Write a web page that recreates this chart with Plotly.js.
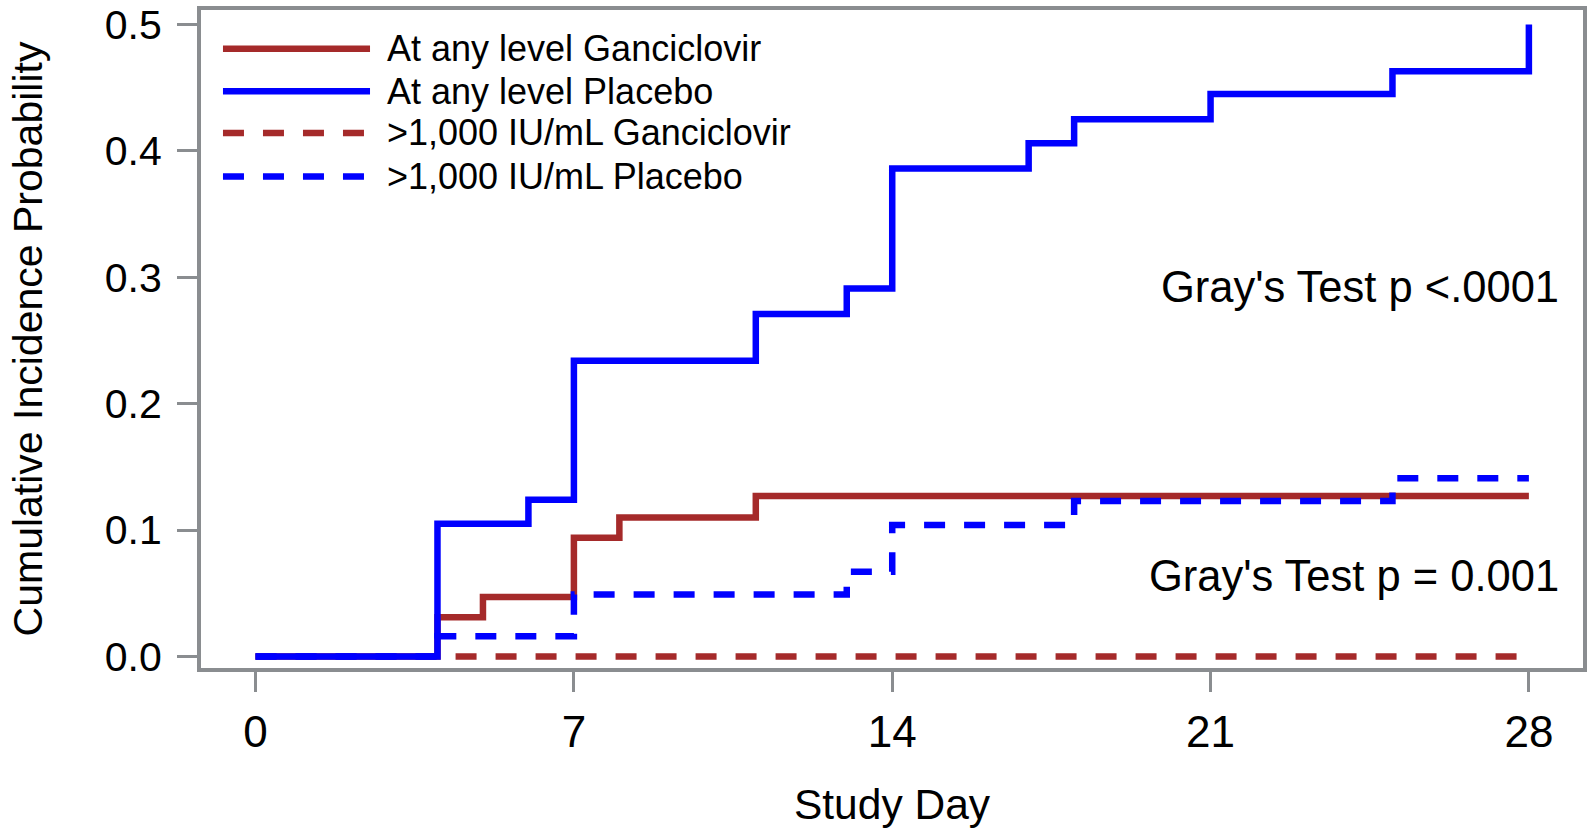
<!DOCTYPE html>
<html>
<head>
<meta charset="utf-8">
<script src="https://cdn.plot.ly/plotly-3.0.1.min.js"></script>
<style>html,body{margin:0;padding:0;background:#fff;}#chart{width:1591px;height:828px;}</style>
</head>
<body>
<div id="chart"></div>
<script>
// Study day tick labels
const dayTicks = [0, 7, 14, 21, 28];
const probTicks = [0, 0.1, 0.2, 0.3, 0.4, 0.5];

// At any level – Ganciclovir
const anyGanDays = [0, 4, 5, 7, 8, 11, 28];
const anyGanProb = [0, 0.031, 0.047, 0.094, 0.110, 0.127, 0.127];

// At any level – Placebo
const anyPlaDays = [0, 4, 6, 7, 11, 13, 14, 17, 18, 21, 25, 28];
const anyPlaProb = [0, 0.105, 0.124, 0.234, 0.271, 0.291, 0.386, 0.406, 0.425, 0.445, 0.463, 0.500];

// >1,000 IU/mL – Ganciclovir
const hiGanDays = [0, 28];
const hiGanProb = [0, 0];

// >1,000 IU/mL – Placebo
const hiPlaDays = [0, 4, 7, 13, 14, 18, 25, 28];
const hiPlaProb = [0, 0.016, 0.049, 0.067, 0.104, 0.123, 0.141, 0.141];

const seriesNames = ["At any level Ganciclovir", "At any level Placebo", ">1,000 IU/mL Ganciclovir", ">1,000 IU/mL Placebo"];
const annotationTexts = ["Gray's Test p <.0001", "Gray's Test p = 0.001"];

const RED = '#a52a2a';
const BLUE = '#0000ff';
const GRAY = '#8a8d90';
const FONT = 'Arial, "Liberation Sans", sans-serif';
const DASH = '21px,19px';
const LW = 6.5;

function stepTrace(x, y, name, color, dash) {
  return {
    x: x, y: y, name: name, type: 'scatter', mode: 'lines',
    line: {shape: 'hv', color: color, width: LW, dash: dash},
    showlegend: false, hoverinfo: 'x+y+name'
  };
}

const traces = [
  stepTrace(hiGanDays, hiGanProb, seriesNames[2], RED, DASH),
  stepTrace(anyGanDays, anyGanProb, seriesNames[0], RED, 'solid'),
  stepTrace(anyPlaDays, anyPlaProb, seriesNames[1], BLUE, 'solid'),
  stepTrace(hiPlaDays, hiPlaProb, seriesNames[3], BLUE, DASH)
];

// manual legend (long line samples like the original)
const legendColors = [RED, BLUE, RED, BLUE];
const legendDash = ['solid', 'solid', 'dash', 'dash'];
const legendRows = [0.9412, 0.8765, 0.8132, 0.7470];
const shapes = [];
const annotations = [];
for (let i = 0; i < 4; i++) {
  shapes.push({
    type: 'line', xref: 'paper', yref: 'paper',
    x0: 0.0159, x1: 0.1223, y0: legendRows[i], y1: legendRows[i],
    line: {color: legendColors[i], width: LW, dash: legendDash[i] === 'dash' ? DASH : 'solid'}
  });
  annotations.push({
    xref: 'paper', yref: 'paper', x: 0.1335, y: legendRows[i],
    xanchor: 'left', yanchor: 'middle', showarrow: false,
    text: seriesNames[i], font: {family: FONT, size: 36, color: '#000'}
  });
}
annotations.push({
  xref: 'x', yref: 'y', x: 28.70, y: 0.2923, xanchor: 'right', yanchor: 'middle',
  showarrow: false, text: annotationTexts[0], font: {family: FONT, size: 43.5, color: '#000'}
});
annotations.push({
  xref: 'x', yref: 'y', x: 28.70, y: 0.0637, xanchor: 'right', yanchor: 'middle',
  showarrow: false, text: annotationTexts[1], font: {family: FONT, size: 43.5, color: '#000'}
});

const layout = {
  width: 1591, height: 828,
  margin: {l: 201, r: 8, t: 10, b: 160, pad: 0},
  paper_bgcolor: '#fff', plot_bgcolor: '#fff',
  font: {family: FONT, color: '#000'},
  showlegend: false,
  xaxis: {
    range: [-1.2, 29.19], tickvals: dayTicks, ticktext: dayTicks.map(String),
    ticks: 'outside', ticklen: 20, tickwidth: 3, tickcolor: GRAY,
    showline: true, mirror: true, linewidth: 4, linecolor: GRAY,
    showgrid: false, zeroline: false,
    tickfont: {family: FONT, size: 44, color: '#000'},
    ticklabelstandoff: 2,
    title: {text: 'Study Day', font: {family: FONT, size: 42.5, color: '#000'}, standoff: 40},
    automargin: false
  },
  yaxis: {
    range: [-0.0091, 0.5114], tickvals: probTicks, ticktext: probTicks.map(v => v.toFixed(1)),
    ticks: 'outside', ticklen: 20, tickwidth: 3, tickcolor: GRAY,
    showline: true, mirror: true, linewidth: 4, linecolor: GRAY,
    showgrid: false, zeroline: false,
    tickfont: {family: FONT, size: 41, color: '#000'},
    ticklabelstandoff: 7,
    title: {text: 'Cumulative Incidence Probability', font: {family: FONT, size: 41, color: '#000'}, standoff: 50},
    automargin: false
  },
  shapes: shapes,
  annotations: annotations
};

Plotly.newPlot('chart', traces, layout, {displayModeBar: false, staticPlot: true});
</script>
</body>
</html>
